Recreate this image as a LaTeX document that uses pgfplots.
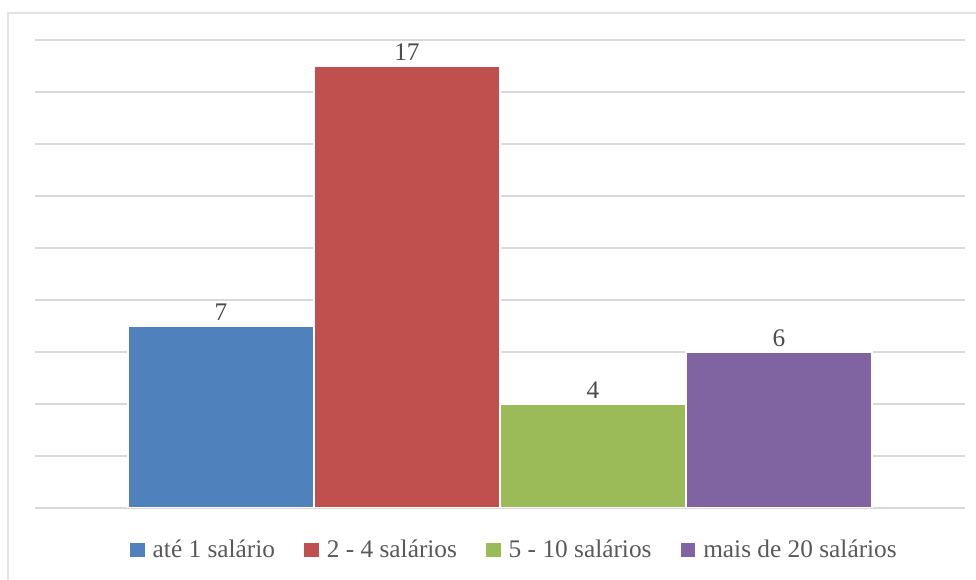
\documentclass[border=0pt]{standalone}
\usepackage{pgfplots}
\pgfplotsset{compat=1.18}
\usepackage{fontspec}
\setmainfont{Liberation Serif}

\definecolor{sBlue}{HTML}{4F81BD}
\definecolor{sRed}{HTML}{C0504D}
\definecolor{sGreen}{HTML}{9BBB59}
\definecolor{sPurple}{HTML}{8064A2}
\definecolor{gridGray}{HTML}{D9D9D9}
\definecolor{frameGray}{HTML}{E3E3E3}
\definecolor{txtGray}{HTML}{595959}

\begin{document}
\begin{tikzpicture}
% canvas: 1px = 0.75pt, origin at top-left
\path[use as bounding box] (0,0) rectangle (732pt,-435pt);
% chart area frame
\draw[frameGray, line width=1.2pt] (6pt,-435pt) -- (6pt,-9.75pt) -- (732pt,-9.75pt);

\begin{axis}[
  at={(26.25pt,-381pt)}, anchor=south west,
  scale only axis,
  width=697.5pt, height=351pt,
  xmin=-1, xmax=4,
  ymin=0, ymax=18,
  ytick={0,2,...,18},
  yticklabels={},
  xtick=\empty,
  ymajorgrids,
  grid style={gridGray, line width=1.2pt},
  major tick length=0pt,
  axis line style={draw=none},
  /pgf/number format/assume math mode=true,
  ybar, bar width=1, bar shift=0pt,
  every axis plot/.append style={draw=white, line width=1.5pt},
  nodes near coords,
  every node near coord/.append style={font=\fontsize{19}{22}\selectfont, text=txtGray!85!black, inner sep=2pt, yshift=1pt},
  legend columns=4,
  legend style={
    at={(0.516,-0.09)}, anchor=center, draw=none, fill=none,
    font=\fontsize{19}{22}\selectfont, text=txtGray,
    /tikz/every odd column/.append style={column sep=4pt},
    /tikz/every even column/.append style={column sep=20pt},
  },
  legend image code/.code={
    \fill[#1, draw=none] (0pt,-5.4pt) rectangle (10.8pt,5.4pt);
  },
]
\addplot[fill=sBlue] coordinates {(0,7)};
\addlegendentry{até 1 salário}
\addplot[fill=sRed] coordinates {(1,17)};
\addlegendentry{2 - 4 salários}
\addplot[fill=sGreen] coordinates {(2,4)};
\addlegendentry{5 - 10 salários}
\addplot[fill=sPurple] coordinates {(3,6)};
\addlegendentry{mais de 20 salários}
\end{axis}
\end{tikzpicture}
\end{document}
